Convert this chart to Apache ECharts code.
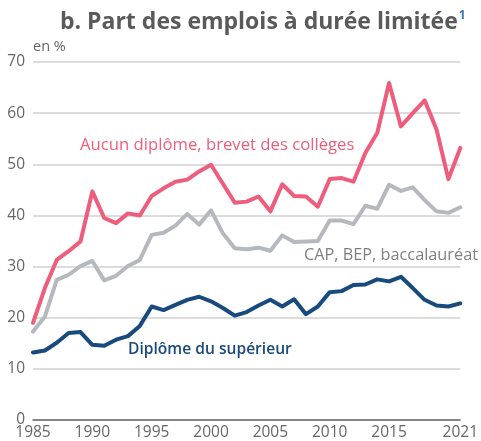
<!DOCTYPE html>
<html><head><meta charset="utf-8">
<script src="https://cdn.jsdelivr.net/npm/echarts@6/dist/echarts.min.js"></script>
<style>html,body{margin:0;padding:0;background:#fff}#c{width:481px;height:441px}</style>
</head><body><div id="c"></div>
<script>
const years = [];
for (let y = 1985; y <= 2021; y++) years.push(String(y));
const xTickLabels = ['1985','1990','1995','2000','2005','2010','2015','2021'];
const yTicks = [0,10,20,30,40,50,60,70];
const aucunDiplome = [19,25.8,31.3,33,34.9,44.7,39.5,38.5,40.4,40,43.8,45.3,46.6,47,48.6,49.9,46.2,42.5,42.7,43.7,40.8,46.1,43.8,43.7,41.7,47.1,47.3,46.6,52.2,56.1,65.9,57.4,60,62.5,56.8,47.1,53.2];
const capBepBac = [17.3,20.2,27.4,28.4,30.1,31.1,27.3,28.2,30.1,31.3,36.2,36.6,38,40.3,38.2,41,36.5,33.6,33.4,33.7,33.1,36.1,34.8,34.9,35,39,39,38.3,41.9,41.3,46,44.8,45.5,43,40.8,40.5,41.6];
const superieur = [13.2,13.6,15.1,17,17.2,14.7,14.5,15.7,16.4,18.4,22.2,21.5,22.5,23.5,24.1,23.2,21.9,20.4,21.1,22.4,23.5,22.2,23.6,20.7,22.2,25,25.2,26.4,26.5,27.5,27.1,28,25.8,23.5,22.4,22.2,22.8];
const seriesNames = ['Aucun diplôme, brevet des collèges','CAP, BEP, baccalauréat','Diplôme du supérieur'];
const colors = ['#ee5d7b','#b5b9bd','#184a7e'];
const font = 'Open Sans';
const chart = echarts.init(document.getElementById('c'));
const mk = (name, data, color) => ({
  name, type:'line', data, symbol:'none', smooth:false,
  lineStyle:{color, width:4, cap:'round', join:'round'}, itemStyle:{color}
});
chart.setOption({
  animation:false,
  textStyle:{fontFamily:font},
  grid:{left:33,right:20,top:62,bottom:21,containLabel:false},
  xAxis:{type:'category', data:years, boundaryGap:false,
    axisLine:{show:true,lineStyle:{color:'#6b6b6b',width:1.5}},
    axisTick:{show:false},
    axisLabel:{interval:(i,v)=>xTickLabels.includes(v), color:'#666', fontSize:15.5, fontFamily:font, margin:5},
    splitLine:{show:false}},
  yAxis:{type:'value', min:yTicks[0], max:yTicks[yTicks.length-1], interval:10,
    axisLine:{show:false}, axisTick:{show:false},
    axisLabel:{color:'#666', fontSize:15.5, fontFamily:font, margin:8},
    splitLine:{lineStyle:{color:'#d0d0d0',width:1.5}}},
  series:[mk(seriesNames[0],aucunDiplome,colors[0]), mk(seriesNames[1],capBepBac,colors[1]), mk(seriesNames[2],superieur,colors[2])],
  graphic:[
    {type:'text', left:60, top:10, style:{rich:{t:{fontSize:23,fontWeight:'bold',fill:'#5a5a5a',fontFamily:font},s:{fontSize:12,fontWeight:'bold',fill:'#3b73b9',fontFamily:font,verticalAlign:'top',padding:[0,0,12,1]}}, text:'{t|b. Part des emplois à durée limitée}{s|1}'}},
    {type:'text', left:33, top:39, style:{text:'en %', fontSize:14.5, fill:'#666', fontFamily:font}},
    {type:'text', left:80, top:137, style:{text:seriesNames[0], fontSize:16.7, fill:colors[0], fontFamily:font}},
    {type:'text', right:3, top:247, style:{text:seriesNames[1], fontSize:16.3, fill:'#808080', fontFamily:font}},
    {type:'text', left:128, top:342, style:{text:seriesNames[2], fontSize:15.6, fontWeight:600, fill:colors[2], fontFamily:font}}
  ]
});
</script></body></html>
